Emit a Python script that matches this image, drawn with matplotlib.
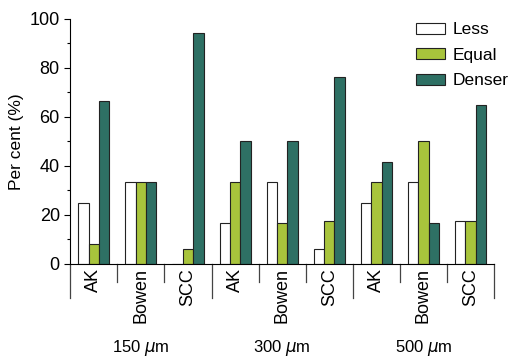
import matplotlib
matplotlib.use('Agg')
import matplotlib.pyplot as plt
import numpy as np

plt.rcParams['font.family'] = ['Liberation Sans', 'DejaVu Sans']
plt.rcParams['font.size'] = 12.5

categories = ['AK', 'Bowen', 'SCC'] * 3
groups = ['150 $\\mu$m', '300 $\\mu$m', '500 $\\mu$m']
less = [25.0, 33.3, 0.0, 16.7, 33.3, 5.9, 25.0, 33.3, 17.6]
equal = [8.3, 33.3, 5.9, 33.3, 16.7, 17.6, 33.3, 50.0, 17.6]
denser = [66.7, 33.3, 94.1, 50.0, 50.0, 76.5, 41.7, 16.7, 64.7]

fig = plt.figure(figsize=(5.24, 3.58), dpi=100)
ax = fig.add_axes([0.134, 0.263, 0.809, 0.684])

x = np.arange(len(categories))
w = 0.22
kw = dict(width=w, edgecolor='#222222', linewidth=0.8)
ax.bar(x - w, less, color='white', label='Less', **kw)
ax.bar(x, equal, color='#a8c43c', label='Equal', **kw)
ax.bar(x + w, denser, color='#2e7064', label='Denser', **kw)

ax.set_xlim(-0.5, len(categories) - 0.5)
ax.set_ylim(0, 100)
ax.set_yticks(range(0, 101, 20))
ax.set_yticks(range(10, 100, 20), minor=True)
ax.tick_params(axis='y', direction='out', length=4, width=0.8, labelsize=13)
ax.tick_params(axis='y', which='minor', length=2.5, width=0.8)
ax.set_xticks([])
ax.spines['top'].set_visible(False)
ax.spines['right'].set_visible(False)
ax.set_ylabel('Per cent (%)', labelpad=4)

# category labels and separators below the axis
for i, c in enumerate(categories):
    ax.text(i, -1.6, c, rotation=90, ha='center', va='top', fontsize=13)
for k in range(len(categories) + 1):
    depth = -14 if k % 3 == 0 else -7.5
    ax.plot([k - 0.5, k - 0.5], [0, depth], color='#444444', lw=0.9, clip_on=False)
for g, name in enumerate(groups):
    ax.text(3 * g + 1, -34.5, name, ha='center', va='center', fontsize=12)

ax.legend(loc='upper right', bbox_to_anchor=(1.07, 1.05), frameon=False,
          handlelength=1.7, handleheight=0.6, labelspacing=0.6, handletextpad=0.4,
          fontsize=12.5)

fig.savefig('out.png', dpi=100)
